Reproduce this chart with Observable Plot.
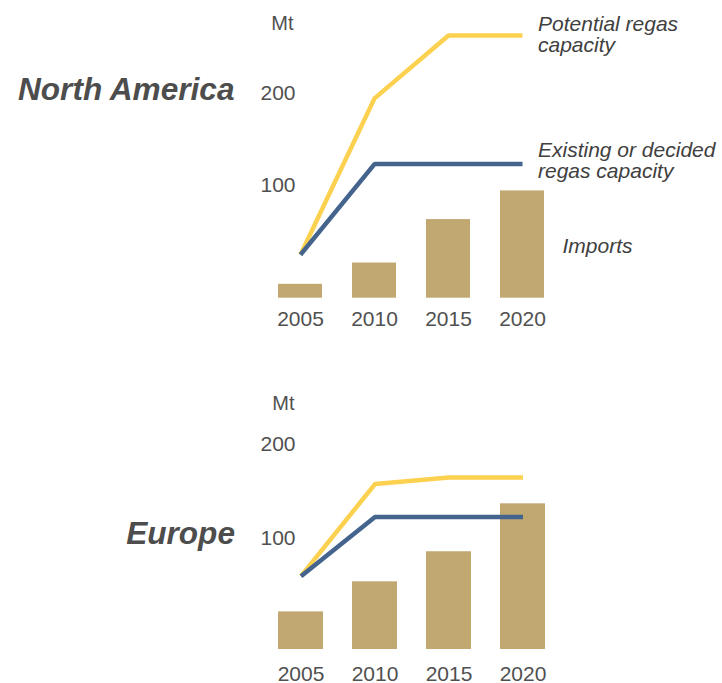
<!DOCTYPE html>
<html>
<head>
<meta charset="utf-8">
<script src="https://cdn.jsdelivr.net/npm/d3@7"></script>
<script src="https://cdn.jsdelivr.net/npm/@observablehq/plot@0.6"></script>
<style>
  html, body { margin: 0; padding: 0; background: #ffffff; overflow: hidden; }
  #chart { width: 722px; }
  #chart svg { display: block; }
</style>
</head>
<body>
<div id="chart"></div>
<script>
// ---- data ----
const years = ["2005", "2010", "2015", "2020"];
const yTicks = [100, 200];
const unitLabel = "Mt";

const naTitle = "North America";
const naImports   = [15, 38, 85, 116];
const naPotential = [47, 216, 284, 284];
const naExisting  = [47, 145, 145, 145];

const euTitle = "Europe";
const euImports   = [40, 72, 104, 155];
const euPotential = [78, 176, 183, 183];
const euExisting  = [78, 141, 141, 141];

const potentialLabel = "Potential regas\ncapacity";
const existingLabel = "Existing or decided\nregas capacity";
const importsLabel = "Imports";

// ---- styles ----
const FONT = "'Liberation Sans', Arial, Helvetica, sans-serif";
const BAR = "#c1a871";
const YELLOW = "#fcd14f";
const BLUE = "#44648e";
const AXIS_TEXT = "#505050";
const TITLE_TEXT = "#4d4d4d";
const NOTE_TEXT = "#404040";

function panel(cfg) {
  const rows = years.map((year, i) => ({
    year,
    imports: cfg.imports[i],
    potential: cfg.potential[i],
    existing: cfg.existing[i]
  }));
  const last = rows.slice(-1);
  const marks = [
    Plot.barY(rows, {x: "year", y: "imports", fill: BAR}),
    Plot.line(rows, {x: "year", y: "potential", stroke: YELLOW, strokeWidth: 4.5, strokeLinejoin: "miter", strokeLinecap: "butt"}),
    Plot.line(rows, {x: "year", y: "existing", stroke: BLUE, strokeWidth: 4.5, strokeLinejoin: "miter", strokeLinecap: "butt"}),
    Plot.axisX({tickSize: 0, tickPadding: cfg.xPad, fontSize: 21, fill: AXIS_TEXT, label: null}),
    Plot.axisY(yTicks, {anchor: "left", tickSize: 0, tickPadding: 0, dx: cfg.yDx, dy: cfg.yDy, fontSize: 21, fill: AXIS_TEXT, label: null}),
    Plot.text([unitLabel], {frameAnchor: "top-left", textAnchor: "end", lineAnchor: "middle", dx: cfg.mtDx, dy: cfg.mtDy, fontSize: 20, fill: AXIS_TEXT}),
    Plot.text([cfg.title], {frameAnchor: "top-left", textAnchor: "end", lineAnchor: "middle", dx: cfg.titleDx, dy: cfg.titleDy, fontSize: 31.6, fontWeight: "bold", fontStyle: "italic", fill: TITLE_TEXT})
  ];
  if (cfg.notes) {
    marks.push(
      Plot.text(last, {x: "year", y: "potential", text: () => potentialLabel, textAnchor: "start", lineAnchor: "middle", lineHeight: 1.0, dx: 15.5, dy: -1, fontSize: 21, fontStyle: "italic", fill: NOTE_TEXT}),
      Plot.text(last, {x: "year", y: "existing", text: () => existingLabel, textAnchor: "start", lineAnchor: "middle", lineHeight: 1.0, dx: 15.5, dy: -3, fontSize: 21, fontStyle: "italic", fill: NOTE_TEXT}),
      Plot.text(last, {x: "year", y: d => d.imports / 2, text: () => importsLabel, textAnchor: "start", lineAnchor: "middle", dx: 40, dy: 2, fontSize: 21, fontStyle: "italic", fill: NOTE_TEXT})
    );
  }
  return Plot.plot({
    width: 722,
    height: cfg.height,
    marginLeft: cfg.left,
    marginRight: 722 - cfg.right,
    marginTop: cfg.top,
    marginBottom: cfg.bottom,
    style: {fontFamily: FONT, fontSize: "21px", background: "transparent", overflow: "visible"},
    x: {domain: years, padding: cfg.pad},
    y: {domain: [0, 300]},
    marks
  });
}

const chart = document.getElementById("chart");
chart.appendChild(panel({
  title: naTitle, imports: naImports, potential: naPotential, existing: naExisting, notes: true,
  height: 336, top: 20.2, bottom: 38.3, left: 246.5, right: 575, pad: 0.41,
  xPad: 12.4, yDx: 48.5, yDy: -20,
  mtDx: 46.5, mtDy: 2.5, titleDx: -12.5, titleDy: 69
}));
chart.appendChild(panel({
  title: euTitle, imports: euImports, potential: euPotential, existing: euExisting, notes: false,
  height: 347, top: 31, bottom: 34, left: 248.1, right: 575.1, pad: 0.395,
  xPad: 16.6, yDx: 46.9, yDy: -17.7,
  mtDx: 45.9, mtDy: 35.7, titleDx: -13.6, titleDy: 166.7
}));
</script>
</body>
</html>
